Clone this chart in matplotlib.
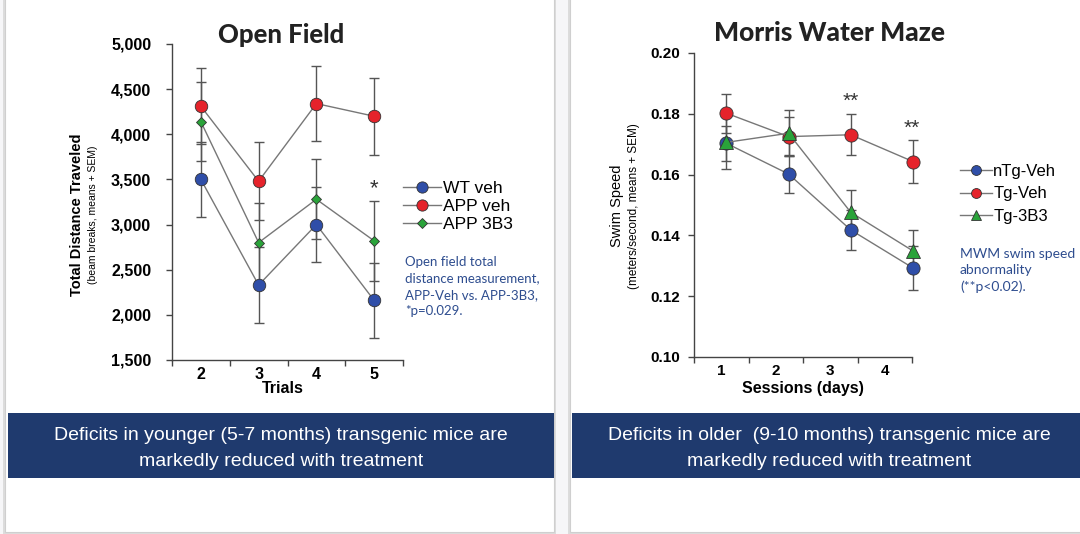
""" open field / morris water maze panels """
import numpy as np
import matplotlib
matplotlib.use('Agg')
import matplotlib.pyplot as plt
from matplotlib.patches import Rectangle
from matplotlib.ticker import FuncFormatter

# Open Field data (distance, means +/- SEM)
trial_labels = ['2', '3', '4', '5']
wt_veh = [3500, 2330, 3000, 2160]
wt_veh_sem = [415, 420, 420, 415]
app_veh = [4310, 3480, 4340, 4200]
app_veh_sem = [420, 430, 415, 425]
app_3b3 = [4140, 2800, 3280, 2820]
app_3b3_sem = [440, 440, 445, 440]

# Morris Water Maze data (swim speed, means +/- SEM)
session_labels = ['1', '2', '3', '4']
ntg_veh = [0.1703, 0.1602, 0.1418, 0.1293]
ntg_veh_sem = [0.0058, 0.0062, 0.0066, 0.0073]
tg_veh = [0.1802, 0.1725, 0.1731, 0.1643]
tg_veh_sem = [0.0064, 0.0065, 0.0068, 0.0070]
tg_3b3 = [0.1706, 0.1736, 0.1476, 0.1349]
tg_3b3_sem = [0.0087, 0.0075, 0.0073, 0.0069]

BLUE = '#2f4ea8'
RED = '#e5232b'
GREEN = '#2aa33a'
NAVY = '#1f3a6e'
NOTE = '#2e4d8f'
ARIAL = ['Liberation Sans', 'DejaVu Sans']
GOTHIC = ['Lato', 'DejaVu Sans']

fig = plt.figure(figsize=(10.8, 5.34), dpi=100, facecolor='#f6f6f8')
W, H = 1080.0, 534.0


def px_rect(x0, y0, x1, y1, **kw):
    """ rectangle in figure pixels (y from top) """
    return Rectangle((x0 / W, 1 - y1 / H), (x1 - x0) / W, (y1 - y0) / H,
                     transform=fig.transFigure, **kw)


# panels with a soft shadow
for x0, x1 in [(5, 554), (570, 1085)]:
    fig.patches.append(px_rect(x0 - 2, -5, x1 + 2, 534, facecolor='#dcdcdc',
                               edgecolor='none', zorder=-3))
    fig.patches.append(px_rect(x0, -5, x1, 532, facecolor='white',
                               edgecolor='#cfcfcf', linewidth=0.8, zorder=-2))

# blue bands
fig.patches.append(px_rect(8, 413, 554, 478, facecolor=NAVY, edgecolor='none', zorder=-1))
fig.patches.append(px_rect(572, 413, 1085, 478, facecolor=NAVY, edgecolor='none', zorder=-1))

band_kw = dict(color='white', fontsize=14, family=ARIAL, ha='center', va='center')
fig.text(281 / W, 1 - 435 / H, 'Deficits in younger (5-7 months) transgenic mice are', **band_kw)
fig.text(281 / W, 1 - 461 / H, 'markedly reduced with treatment', **band_kw)
fig.text(829 / W, 1 - 436 / H, 'Deficits in older  (9-10 months) transgenic mice are', **band_kw)
fig.text(829 / W, 1 - 461 / H, 'markedly reduced with treatment', **band_kw)

# titles
fig.text(281 / W, 1 - 35 / H, 'Open Field', fontsize=18.5, fontweight='black',
         family=GOTHIC, ha='center', va='center', color='#222222')
fig.text(830 / W, 1 - 33 / H, 'Morris Water Maze', fontsize=19, fontweight='black',
         family=GOTHIC, ha='center', va='center', color='#222222')


def style_axes(ax, lo, hi, labels, fs):
    """ spines, boundary ticks and centred category labels """
    for s in ['top', 'right']:
        ax.spines[s].set_visible(False)
    for s in ['left', 'bottom']:
        ax.spines[s].set_color('#444444')
        ax.spines[s].set_linewidth(1.0)
    ax.set_xlim(lo, hi)
    edges = np.linspace(lo, hi, len(labels) + 1)
    ax.set_xticks(edges)
    ax.set_xticklabels([])
    ax.set_xticks((edges[:-1] + edges[1:]) / 2, minor=True)
    ax.set_xticklabels(labels, minor=True, fontweight='bold', fontsize=fs, family=ARIAL)
    ax.tick_params(axis='x', which='minor', length=0, pad=5)
    ax.tick_params(axis='both', which='major', length=4, width=1.0, color='#444444',
                   direction='out')
    ax.patch.set_alpha(0)


def draw_series(ax, x, y, err, marker, color, ms, label):
    ax.errorbar(x, y, yerr=err, fmt='none', ecolor='#555555', elinewidth=1.0,
                capsize=3.8, capthick=1.0, zorder=3, clip_on=False)
    ax.plot(x, y, '-', color='#777777', linewidth=1.0, marker=marker, markersize=ms,
            markerfacecolor=color, markeredgecolor='#333333', markeredgewidth=0.6,
            label=label, zorder=4, clip_on=False)


# ---- Open Field ----
ax1 = fig.add_axes([172 / W, 1 - 360 / H, 231 / W, 316 / H])
trials = np.arange(1, len(trial_labels) + 1)
draw_series(ax1, trials, wt_veh, wt_veh_sem, 'o', BLUE, 9, 'WT veh')
draw_series(ax1, trials, app_veh, app_veh_sem, 'o', RED, 9, 'APP veh')
draw_series(ax1, trials, app_3b3, app_3b3_sem, 'D', GREEN, 5.5, 'APP 3B3')
style_axes(ax1, 0.5, 4.5, trial_labels, 11.5)
ax1.set_ylim(1500, 5000)
ax1.set_yticks(np.arange(1500, 5001, 500))
ax1.yaxis.set_major_formatter(FuncFormatter(lambda v, p: f'{int(v):,}'))
for t in ax1.get_yticklabels():
    t.set_fontweight('bold')
    t.set_fontsize(11.5)
    t.set_family(ARIAL)
ax1.tick_params(axis='y', pad=11)
ax1.text(4, 3400, '*', ha='center', va='center', fontsize=16, color='#333333', family=ARIAL)
ax1.set_xlabel('Trials', fontweight='bold', fontsize=11.5, family=ARIAL)
ax1.xaxis.set_label_coords(0.48, -0.066)
ax1.xaxis.label.set_va('top')
ax1.text(-0.413, 0.459, 'Total Distance Traveled', rotation=90, transform=ax1.transAxes,
         ha='center', va='center', fontsize=10.5, fontweight='bold', family=ARIAL)
ax1.text(-0.342, 0.459, '(beam breaks, means + SEM)', rotation=90, transform=ax1.transAxes,
         ha='center', va='center', fontsize=7.5, family=ARIAL)
ax1.legend(loc='upper left', bbox_to_anchor=(1.0, 0.568), frameon=False, borderpad=0,
           borderaxespad=0, handlelength=2.2, handletextpad=0.1, labelspacing=0.18,
           markerscale=0.9, prop={'family': ARIAL, 'size': 12.5})
ax1.text(1.01, 0.33, 'Open field total\ndistance measurement,\nAPP-Veh vs. APP-3B3,\n*p=0.029.',
         transform=ax1.transAxes, ha='left', va='top', fontsize=9.5, color=NOTE,
         family=GOTHIC, linespacing=1.45)

# ---- Morris Water Maze ----
ax2 = fig.add_axes([694 / W, 1 - 357 / H, 218 / W, 304 / H])
sessions = np.arange(1, len(session_labels) + 1)
draw_series(ax2, sessions, ntg_veh, ntg_veh_sem, 'o', BLUE, 9.5, 'nTg-Veh')
draw_series(ax2, sessions, tg_veh, tg_veh_sem, 'o', RED, 9.5, 'Tg-Veh')
draw_series(ax2, sessions, tg_3b3, tg_3b3_sem, '^', GREEN, 10, 'Tg-3B3')
style_axes(ax2, 0.48, 3.985, session_labels, 11)
ax2.set_ylim(0.10, 0.20)
ax2.set_yticks(np.arange(0.10, 0.2001, 0.02))
ax2.yaxis.set_major_formatter(FuncFormatter(lambda v, p: f'{v:.2f}'))
for t in ax2.get_yticklabels():
    t.set_fontweight('bold')
    t.set_fontsize(11)
    t.set_family(ARIAL)
ax2.tick_params(axis='y', pad=6)
ax2.text(3, 0.1840, '**', ha='center', va='center', fontsize=15, color='#333333', family=ARIAL)
ax2.text(3.98, 0.1752, '**', ha='center', va='center', fontsize=15, color='#333333', family=ARIAL)
ax2.set_xlabel('Sessions (days)', fontweight='bold', fontsize=11.5, family=ARIAL)
ax2.xaxis.set_label_coords(0.5, -0.079)
ax2.xaxis.label.set_va('top')
ax2.text(-0.353, 0.497, 'Swim Speed', rotation=90, transform=ax2.transAxes,
         ha='center', va='center', fontsize=10.5, family=ARIAL)
ax2.text(-0.275, 0.497, '(meters/second, means + SEM)', rotation=90, transform=ax2.transAxes,
         ha='center', va='center', fontsize=8.5, family=ARIAL)
ax2.legend(loc='upper left', bbox_to_anchor=(1.22, 0.635), frameon=False, borderpad=0,
           borderaxespad=0, handlelength=1.9, handletextpad=0.1, labelspacing=0.45,
           markerscale=0.75, prop={'family': ARIAL, 'size': 12})
ax2.text(1.22, 0.36, 'MWM swim speed\nabnormality\n(**p<0.02).',
         transform=ax2.transAxes, ha='left', va='top', fontsize=10, color=NOTE,
         family=GOTHIC, linespacing=1.45)

fig.savefig('out.png', dpi=100, facecolor=fig.get_facecolor())
